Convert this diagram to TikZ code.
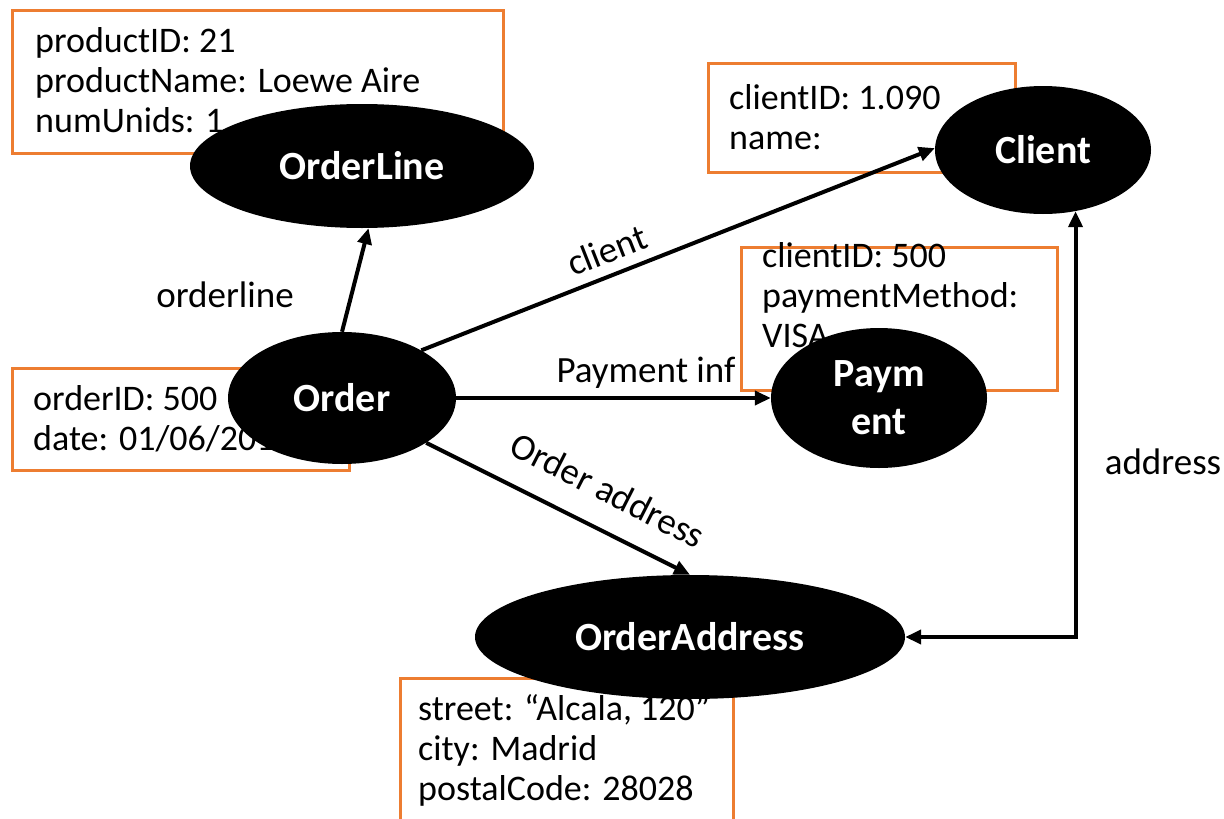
\documentclass[tikz,border=0pt]{standalone}
\usepackage{fontspec}
\setmainfont{Carlito}
\usetikzlibrary{shapes.geometric,arrows.meta}
\definecolor{boxorange}{RGB}{237,125,49}
\begin{document}
\begin{tikzpicture}[x=1pt,y=-1pt,
  attrbox/.style={draw=boxorange,line width=3pt,fill=white},
  attrtext/.style={anchor=north west,inner sep=0pt,align=left,font=\fontsize{36}{40}\selectfont},
  entity/.style={ellipse,fill=black,inner sep=0pt,text=white,font=\bfseries\fontsize{40}{48}\selectfont,align=center},
  rel/.style={line width=4pt,-{Triangle[length=16pt,width=14pt]}},
  birel/.style={line width=4pt,{Triangle[length=16pt,width=14pt]}-{Triangle[length=16pt,width=14pt]}},
  lbl/.style={font=\fontsize{37}{40}\selectfont,inner sep=0pt}]
\useasboundingbox (0,0) rectangle (1224,819);
% attribute boxes
\draw[attrbox] (12,10) rectangle (503,153);
\node[attrtext] (t1) at (35,24) {\strut productID: 21\\productName: Loewe Aire\\numUnids: 1};
\draw[attrbox] (708,63) rectangle (1015,172);
\node[attrtext] (t2) at (729,81) {\strut clientID: 1.090\\name:};
\draw[attrbox] (741,247) rectangle (1057,390);
\node[attrtext] (t3) at (762,239) {\strut clientID: 500\\paymentMethod:\\VISA};
\draw[attrbox] (12,368) rectangle (349,470);
\node[attrtext] (t4) at (33,382) {\strut orderID: 500\\date: 01/06/2018};
\draw[attrbox] (400,678) rectangle (733,840);
\node[attrtext] (t5) at (418,692) {\strut street: “Alcala, 120”\\city: Madrid\\postalCode: 28028};
% entities
\node[entity,minimum width=344pt,minimum height=124pt] (orderline) at (362,166) {OrderLine};
\node[entity,minimum width=216pt,minimum height=128pt] (client) at (1043,150) {Client};
\node[entity,minimum width=216pt,minimum height=140pt] (payment) at (879,398) {Paym\\ent};
\node[entity,minimum width=228pt,minimum height=132pt] (order) at (342,398) {Order};
\node[entity,minimum width=430pt,minimum height=124pt] (orderaddress) at (690,637) {OrderAddress};
% relations
\draw[rel] (order.north) -- (orderline.-84);
\draw[rel] (order.31) -- (client.179);
\draw[rel] (order.east) -- (payment.west);
\draw[rel] (order.-28) -- (orderaddress.north);
\draw[birel] (client.-62) |- (orderaddress.east);
% labels
\node[lbl] (l1) at (225,295) {orderline};
\node[lbl,rotate=21.5] (l2) at (607,250) {client};
\node[lbl] (l3) at (646,373) {Payment inf};
\node[lbl,rotate=-27] (l4) at (608,490) {Order address};
\node[lbl] (l5) at (1163,462) {address};
\end{tikzpicture}
\end{document}
